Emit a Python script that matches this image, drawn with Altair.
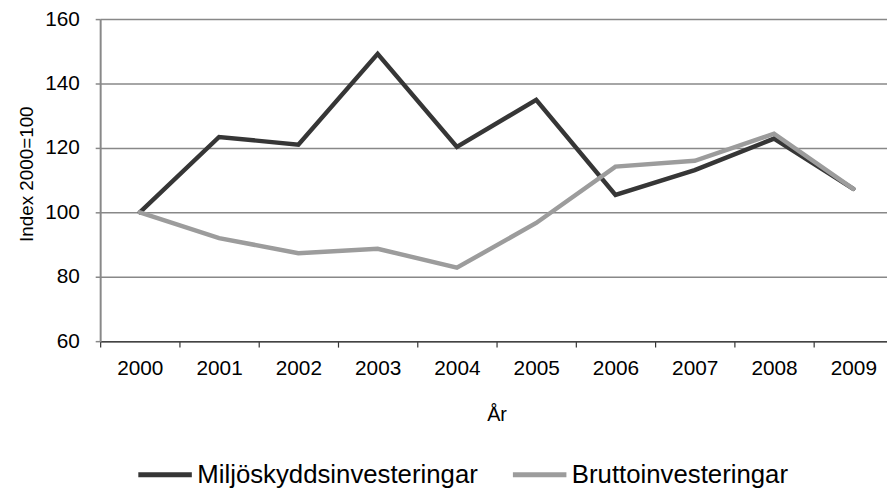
import altair as alt
import pandas as pd

years = [2000, 2001, 2002, 2003, 2004, 2005, 2006, 2007, 2008, 2009]
miljo = [100, 123.4, 121.0, 149.2, 120.3, 134.9, 105.4, 113.1, 122.9, 107.3]
brutto = [100, 92.0, 87.3, 88.7, 82.8, 96.7, 114.2, 116.0, 124.4, 107.3]
series_names = ["Miljöskyddsinvesteringar", "Bruttoinvesteringar"]
series_colors = ["#363636", "#9c9c9c"]
y_ticks = [60, 80, 100, 120, 140, 160]
x_tick_pos = [1999.5, 2000.5, 2001.5, 2002.5, 2003.5, 2004.5, 2005.5, 2006.5, 2007.5, 2008.5]

rows = []
for name, vals in zip(series_names, [miljo, brutto]):
    for yr, v in zip(years, vals):
        rows.append({"year": yr, "value": v, "series": name})
df = pd.DataFrame(rows)

FONT = "Liberation Sans"
W, H = 794, 325
band = 80

x_enc = alt.X(
    "year:Q",
    scale=alt.Scale(domain=[1999.5, 1999.5 + W / band], nice=False, zero=False),
    axis=alt.Axis(
        title="År",
        values=x_tick_pos,
        labelExpr="format(datum.value + 0.5, 'd')",
        labelOffset=band / 2,
        labelFlush=False,
        labelOverlap=False,
        labelBaseline="alphabetic",
        labelPadding=28,
        labelFont=FONT,
        labelFontSize=21,
        labelColor="black",
        tickSize=6,
        tickColor="#333333",
        tickWidth=1.2,
        domainColor="#444444",
        domainWidth=1.5,
        grid=False,
        titleFont=FONT,
        titleFontSize=20,
        titleFontWeight="normal",
        titleColor="black",
        titleBaseline="alphabetic",
        titleX=400,
        titleY=80,
    ),
)
y_enc = alt.Y(
    "value:Q",
    scale=alt.Scale(domain=[60, 160], nice=False, zero=False),
    axis=alt.Axis(
        title="Index 2000=100",
        values=y_ticks,
        labelFont=FONT,
        labelFontSize=21,
        labelColor="black",
        labelPadding=16,
        tickSize=5,
        tickColor="#888888",
        tickWidth=1.5,
        domainColor="#888888",
        domainWidth=2,
        grid=True,
        gridColor="#888888",
        gridWidth=1.5,
        titleFont=FONT,
        titleFontSize=19,
        titleFontWeight="normal",
        titleColor="black",
        titleBaseline="alphabetic",
        titleX=-68,
        titleY=156,
    ),
)
color_enc = alt.Color(
    "series:N",
    scale=alt.Scale(domain=series_names, range=series_colors),
    legend=alt.Legend(
        title=None,
        orient="none",
        legendX=36,
        legendY=430,
        direction="horizontal",
        symbolType="stroke",
        symbolSize=2916,
        symbolStrokeWidth=5,
        labelFont=FONT,
        labelFontSize=26,
        labelColor="black",
        labelOffset=3,
        labelLimit=500,
        columnPadding=24,
        padding=0,
    ),
)

base = alt.Chart(df).mark_line(strokeWidth=4.5, strokeCap="round").encode(
    x=x_enc, y=y_enc, color=color_enc
)

layers = [base.transform_filter(alt.datum.series == s) for s in series_names]

chart = alt.layer(*layers).properties(
    width=W,
    height=H,
    autosize=alt.AutoSizeParams(type="none"),
    padding={"left": 93, "top": 9, "right": 0, "bottom": 147},
).configure_view(stroke=None)

chart.save("out.html", embed_options={"renderer": "svg", "actions": False})
